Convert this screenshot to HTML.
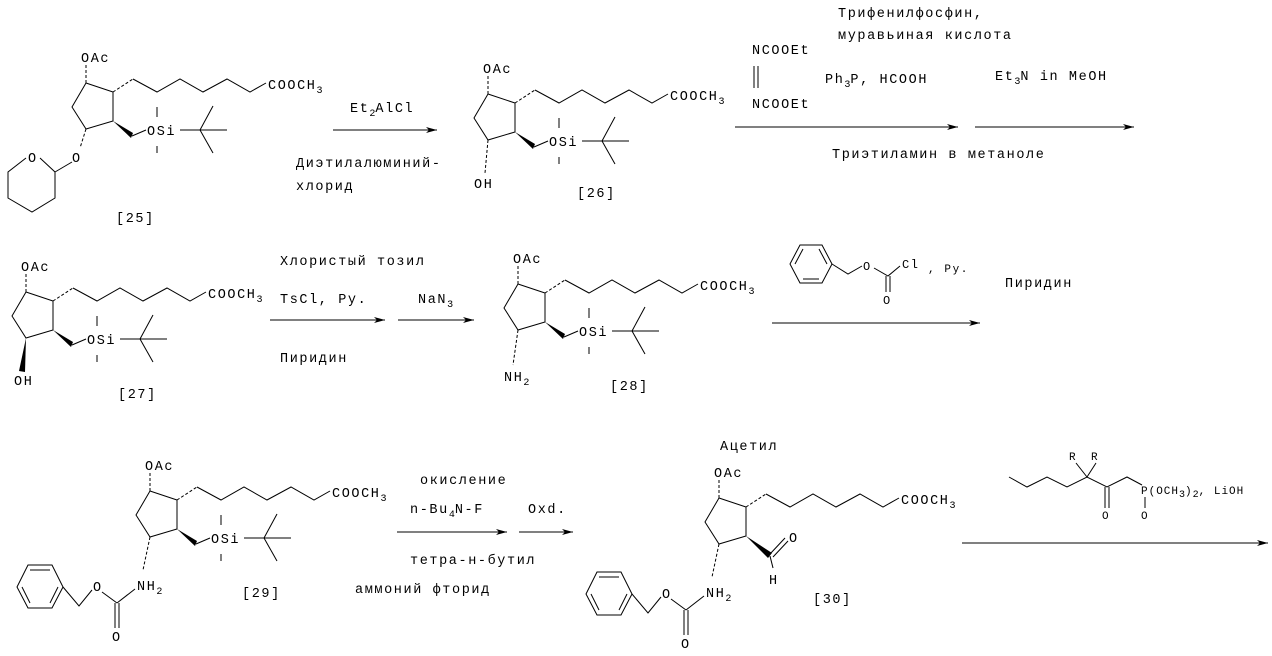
<!DOCTYPE html>
<html><head><meta charset="utf-8"><style>
html,body{margin:0;padding:0;background:#fff;}
svg{display:block;}
text{font-family:"Liberation Mono",monospace;font-size:13.5px;letter-spacing:1.6px;fill:#000;}
.s{font-size:10px;letter-spacing:0;}
line,polyline,polygon.o{stroke:#000;stroke-width:1;fill:none;}
.d{stroke-dasharray:3,2;}
</style></head><body>
<svg width="1272" height="656" viewBox="0 0 1272 656" xmlns="http://www.w3.org/2000/svg">
<defs><marker id="ah" markerWidth="12" markerHeight="8" refX="11" refY="4" orient="auto" markerUnits="userSpaceOnUse"><path d="M0,1 L11,4 L0,7 L3,4 Z" fill="#000"/></marker></defs>

<!-- [25] -->
<g transform="translate(0,0)">
<text x="81" y="62">OAc</text>
<line x1="86" y1="65" x2="86" y2="83" class="d"/>
<polyline points="86,83 113,92 113,121 86,129 72,107 86,83"/>
<line x1="113" y1="92" x2="133" y2="79" class="d"/>
<polyline points="133,79 157,92 180,79 203,92 227,79 250,92 266,83"/>
<text x="268" y="89">COOCH<tspan class="s" dy="4">3</tspan></text>
<polygon points="113,121 133,133 131,138" fill="#000"/>
<line x1="132" y1="136" x2="146" y2="130"/>
<text x="147" y="135">OSi</text>
<line x1="180" y1="130" x2="227" y2="130"/><line x1="200" y1="130" x2="213" y2="106"/><line x1="200" y1="130" x2="213" y2="153"/>
<line x1="157" y1="107" x2="157" y2="117"/><line x1="157" y1="146" x2="157" y2="153"/>
</g>
<line x1="86" y1="129" x2="80" y2="148" class="d"/>
<text x="72" y="162">O</text>
<text x="28" y="162">O</text>
<line x1="72" y1="162" x2="55" y2="172"/>
<polyline points="40,158 55,172 55,198 32,212 8,198 8,172 26,158"/>
<text x="116" y="222">[25]</text>

<!-- arrow 1 -->
<line x1="333" y1="130" x2="437" y2="130" marker-end="url(#ah)"/>
<text x="350" y="112">Et<tspan class="s" dy="4">2</tspan><tspan dy="-4">AlCl</tspan></text>
<text x="296" y="167">Диэтилалюминий-</text>
<text x="296" y="190">хлорид</text>

<!-- [26] -->
<g transform="translate(402,11)">
<text x="81" y="62">OAc</text>
<line x1="86" y1="65" x2="86" y2="83" class="d"/>
<polyline points="86,83 113,92 113,121 86,129 72,107 86,83"/>
<line x1="113" y1="92" x2="133" y2="79" class="d"/>
<polyline points="133,79 157,92 180,79 203,92 227,79 250,92 266,83"/>
<text x="268" y="89">COOCH<tspan class="s" dy="4">3</tspan></text>
<polygon points="113,121 133,133 131,138" fill="#000"/>
<line x1="132" y1="136" x2="146" y2="130"/>
<text x="147" y="135">OSi</text>
<line x1="180" y1="130" x2="227" y2="130"/><line x1="200" y1="130" x2="213" y2="106"/><line x1="200" y1="130" x2="213" y2="153"/>
<line x1="157" y1="107" x2="157" y2="117"/><line x1="157" y1="146" x2="157" y2="153"/>
</g>
<line x1="488" y1="140" x2="485" y2="173" class="d"/>
<text x="474" y="188">OH</text>
<text x="577" y="197">[26]</text>

<!-- arrows 2,3 -->
<text x="838" y="17">Трифенилфосфин,</text>
<text x="838" y="39">муравьиная кислота</text>
<text x="752" y="54">NCOOEt</text>
<line x1="754" y1="66" x2="754" y2="88"/><line x1="758" y1="66" x2="758" y2="88"/>
<text x="752" y="108">NCOOEt</text>
<text x="825" y="83">Ph<tspan class="s" dy="4">3</tspan><tspan dy="-4">P, HCOOH</tspan></text>
<text x="995" y="80">Et<tspan class="s" dy="4">3</tspan><tspan dy="-4">N in MeOH</tspan></text>
<line x1="735" y1="127" x2="958" y2="127" marker-end="url(#ah)"/>
<line x1="975" y1="127" x2="1134" y2="127" marker-end="url(#ah)"/>
<text x="832" y="158">Триэтиламин в метаноле</text>

<!-- [27] -->
<g transform="translate(-60,209)">
<text x="81" y="62">OAc</text>
<line x1="86" y1="65" x2="86" y2="83" class="d"/>
<polyline points="86,83 113,92 113,121 86,129 72,107 86,83"/>
<line x1="113" y1="92" x2="133" y2="79" class="d"/>
<polyline points="133,79 157,92 180,79 203,92 227,79 250,92 266,83"/>
<text x="268" y="89">COOCH<tspan class="s" dy="4">3</tspan></text>
<polygon points="113,121 133,133 131,138" fill="#000"/>
<line x1="132" y1="136" x2="146" y2="130"/>
<text x="147" y="135">OSi</text>
<line x1="180" y1="130" x2="227" y2="130"/><line x1="200" y1="130" x2="213" y2="106"/><line x1="200" y1="130" x2="213" y2="153"/>
<line x1="157" y1="107" x2="157" y2="117"/><line x1="157" y1="146" x2="157" y2="153"/>
</g>
<polygon points="26,338 19,371 25,372" fill="#000"/>
<text x="14" y="385">OH</text>
<text x="118" y="398">[27]</text>

<!-- arrows row 2 -->
<text x="280" y="265">Хлористый тозил</text>
<text x="280" y="303">TsCl, Py.</text>
<text x="418" y="303">NaN<tspan class="s" dy="4">3</tspan></text>
<line x1="270" y1="320" x2="385" y2="320" marker-end="url(#ah)"/>
<line x1="398" y1="320" x2="474" y2="320" marker-end="url(#ah)"/>
<text x="280" y="362">Пиридин</text>

<!-- [28] -->
<g transform="translate(432,201)">
<text x="81" y="62">OAc</text>
<line x1="86" y1="65" x2="86" y2="83" class="d"/>
<polyline points="86,83 113,92 113,121 86,129 72,107 86,83"/>
<line x1="113" y1="92" x2="133" y2="79" class="d"/>
<polyline points="133,79 157,92 180,79 203,92 227,79 250,92 266,83"/>
<text x="268" y="89">COOCH<tspan class="s" dy="4">3</tspan></text>
<polygon points="113,121 133,133 131,138" fill="#000"/>
<line x1="132" y1="136" x2="146" y2="130"/>
<text x="147" y="135">OSi</text>
<line x1="180" y1="130" x2="227" y2="130"/><line x1="200" y1="130" x2="213" y2="106"/><line x1="200" y1="130" x2="213" y2="153"/>
<line x1="157" y1="107" x2="157" y2="117"/><line x1="157" y1="146" x2="157" y2="153"/>
</g>
<line x1="518" y1="330" x2="513" y2="365" class="d"/>
<text x="504" y="381">NH<tspan class="s" dy="4">2</tspan></text>
<text x="610" y="390">[28]</text>

<!-- benzyl chloroformate reagent -->
<polygon class="o" points="790,264 800,245 822,245 832,264 822,283 800,283"/>
<line x1="795" y1="264" x2="803" y2="249"/><line x1="819" y1="249" x2="827" y2="264"/><line x1="803" y1="279" x2="819" y2="279"/>
<polyline points="832,264 848,274 862,266"/>
<text x="863" y="270" class="" style="font-size:12px">O</text>
<polyline points="874,268 888,276 900,266"/>
<line x1="886" y1="276" x2="886" y2="292"/><line x1="890" y1="276" x2="890" y2="292"/>
<text x="883" y="304" style="font-size:12px">O</text>
<text x="902" y="268" style="font-size:12px">Cl</text>
<text x="928" y="272" style="font-size:11px">, Py.</text>
<line x1="772" y1="323" x2="980" y2="323" marker-end="url(#ah)"/>
<text x="1005" y="287">Пиридин</text>

<!-- [29] -->
<g transform="translate(64,408)">
<text x="81" y="62">OAc</text>
<line x1="86" y1="65" x2="86" y2="83" class="d"/>
<polyline points="86,83 113,92 113,121 86,129 72,107 86,83"/>
<line x1="113" y1="92" x2="133" y2="79" class="d"/>
<polyline points="133,79 157,92 180,79 203,92 227,79 250,92 266,83"/>
<text x="268" y="89">COOCH<tspan class="s" dy="4">3</tspan></text>
<polygon points="113,121 133,133 131,138" fill="#000"/>
<line x1="132" y1="136" x2="146" y2="130"/>
<text x="147" y="135">OSi</text>
<line x1="180" y1="130" x2="227" y2="130"/><line x1="200" y1="130" x2="213" y2="106"/><line x1="200" y1="130" x2="213" y2="153"/>
<line x1="157" y1="107" x2="157" y2="117"/><line x1="157" y1="146" x2="157" y2="153"/>
</g>
<line x1="150" y1="537" x2="143" y2="570" class="d"/>
<g id="carb">
<text x="137" y="590">NH<tspan class="s" dy="4">2</tspan></text>
<line x1="135" y1="589" x2="117" y2="603"/>
<line x1="115" y1="603" x2="115" y2="628"/><line x1="119" y1="603" x2="119" y2="628"/>
<text x="112" y="641">O</text>
<line x1="117" y1="603" x2="102" y2="592"/>
<text x="93" y="591">O</text>
<polyline points="92,590 79,606 63,587"/>
<polygon class="o" points="63,587 52,608 28,608 17,587 28,565 52,565"/>
<line x1="58" y1="587" x2="50" y2="603"/><line x1="30" y1="603" x2="22" y2="587"/><line x1="30" y1="570" x2="50" y2="570"/>
</g>
<text x="242" y="597">[29]</text>

<!-- arrows row 3 -->
<text x="420" y="484">окисление</text>
<text x="410" y="513">n-Bu<tspan class="s" dy="4">4</tspan><tspan dy="-4">N-F</tspan></text>
<text x="528" y="513">Oxd.</text>
<line x1="397" y1="532" x2="507" y2="532" marker-end="url(#ah)"/>
<line x1="519" y1="532" x2="573" y2="532" marker-end="url(#ah)"/>
<text x="410" y="564">тетра-н-бутил</text>
<text x="355" y="593">аммоний фторид</text>

<!-- [30] -->
<text x="720" y="450">Ацетил</text>
<g transform="translate(633,415)">
<text x="81" y="62">OAc</text>
<line x1="86" y1="65" x2="86" y2="83" class="d"/>
<polyline points="86,83 113,92 113,121 86,129 72,107 86,83"/>
<line x1="113" y1="92" x2="133" y2="79" class="d"/>
<polyline points="133,79 157,92 180,79 203,92 227,79 250,92 266,83"/>
<text x="268" y="89">COOCH<tspan class="s" dy="4">3</tspan></text>
</g>
<polygon points="746,536 772,553 768,558" fill="#000"/>
<line x1="770" y1="554" x2="785" y2="538"/><line x1="773" y1="557" x2="788" y2="541"/>
<text x="789" y="542">O</text>
<line x1="770" y1="556" x2="773" y2="568"/>
<text x="769" y="584">H</text>
<line x1="719" y1="544" x2="712" y2="577" class="d"/>
<g transform="translate(569,7)">
<text x="137" y="590">NH<tspan class="s" dy="4">2</tspan></text>
<line x1="135" y1="589" x2="117" y2="603"/>
<line x1="115" y1="603" x2="115" y2="628"/><line x1="119" y1="603" x2="119" y2="628"/>
<text x="112" y="641">O</text>
<line x1="117" y1="603" x2="102" y2="592"/>
<text x="93" y="591">O</text>
<polyline points="92,590 79,606 63,587"/>
<polygon class="o" points="63,587 52,608 28,608 17,587 28,565 52,565"/>
<line x1="58" y1="587" x2="50" y2="603"/><line x1="30" y1="603" x2="22" y2="587"/><line x1="30" y1="570" x2="50" y2="570"/>
</g>
<text x="813" y="603">[30]</text>

<!-- phosphonate reagent -->
<polyline points="1009,477 1027,487 1047,477 1067,487 1087,477 1107,487 1127,477 1142,485"/>
<line x1="1087" y1="477" x2="1076" y2="463"/><line x1="1087" y1="477" x2="1096" y2="463"/>
<text x="1069" y="460" style="font-size:11px">R</text><text x="1091" y="460" style="font-size:11px">R</text>
<line x1="1105" y1="487" x2="1105" y2="508"/><line x1="1109" y1="487" x2="1109" y2="508"/>
<text x="1102" y="519" style="font-size:11px">O</text>
<text x="1141" y="494" style="font-size:11px;letter-spacing:1px">P(OCH<tspan class="s" dy="3">3</tspan><tspan dy="-3">)</tspan><tspan class="s" dy="3">2</tspan><tspan dy="-3">, LiOH</tspan></text>
<line x1="1145" y1="497" x2="1145" y2="508"/>
<text x="1141" y="519" style="font-size:11px">O</text>
<line x1="962" y1="543" x2="1268" y2="543" marker-end="url(#ah)"/>
</svg>
</body></html>
